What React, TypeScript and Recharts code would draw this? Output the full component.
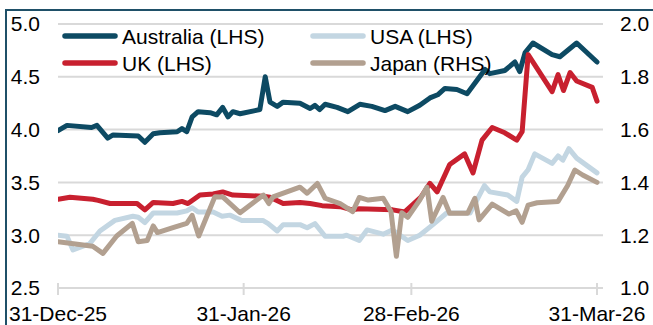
import { LineChart, Line, XAxis, YAxis, CartesianGrid } from 'recharts';

// x values are days after 31-Dec-25
const xTicks = [0, 31, 59, 90];
const xTickLabels = ['31-Dec-25', '31-Jan-26', '28-Feb-26', '31-Mar-26'];
const leftTicks = [2.5, 3.0, 3.5, 4.0, 4.5, 5.0];
const rightTicks = [1.0, 1.2, 1.4, 1.6, 1.8, 2.0];

const australiaDays = [0, 1.5, 5.6, 6.5, 8.3, 9.2, 13.4, 14.5, 15.9, 17.0, 19.9, 20.7, 21.5, 22.4, 23.4, 25.4, 26.5, 27.5, 28.4, 29.2, 30.4, 32.9, 33.7, 34.6, 35.4, 36.6, 37.6, 40.4, 42.1, 42.9, 43.7, 44.6, 46.6, 48.4, 50.4, 52.4, 54.6, 56.3, 58.4, 60.4, 62.1, 63.4, 64.6, 66.6, 68.3, 70.0, 71.3, 72.1, 74.6, 76.3, 77.1, 78.0, 79.3, 82.5, 83.8, 86.6, 90.0];
const australia = [3.99, 4.04, 4.02, 4.04, 3.92, 3.95, 3.94, 3.88, 3.96, 3.97, 3.98, 4.01, 3.98, 4.12, 4.17, 4.16, 4.14, 4.21, 4.12, 4.17, 4.15, 4.18, 4.19, 4.50, 4.26, 4.22, 4.26, 4.25, 4.20, 4.23, 4.19, 4.24, 4.21, 4.17, 4.24, 4.22, 4.18, 4.22, 4.17, 4.23, 4.30, 4.33, 4.39, 4.38, 4.34, 4.47, 4.57, 4.53, 4.56, 4.64, 4.55, 4.73, 4.82, 4.71, 4.69, 4.82, 4.64];

const usaDays = [0, 1.5, 2.5, 5.3, 7.0, 9.5, 12.5, 13.4, 14.5, 15.9, 19.9, 21.5, 22.4, 23.4, 25.9, 27.4, 28.7, 30.7, 34.2, 35.1, 36.6, 37.6, 40.4, 41.6, 42.9, 44.6, 47.6, 48.2, 50.3, 51.6, 54.3, 55.8, 58.4, 60.4, 62.6, 64.9, 68.8, 71.2, 72.1, 75.1, 76.6, 77.5, 78.5, 79.6, 82.5, 83.5, 84.3, 85.3, 86.6, 90.0];
const usa = [3.00, 2.99, 2.86, 2.92, 3.04, 3.14, 3.18, 3.17, 3.12, 3.21, 3.21, 3.23, 3.26, 3.22, 3.22, 3.18, 3.19, 3.14, 3.14, 3.11, 3.04, 3.10, 3.10, 3.07, 3.11, 2.99, 2.99, 3.00, 2.95, 3.05, 3.01, 3.05, 2.95, 3.00, 3.10, 3.21, 3.21, 3.47, 3.41, 3.38, 3.32, 3.55, 3.62, 3.77, 3.68, 3.75, 3.71, 3.82, 3.73, 3.59];

const ukDays = [0, 2.0, 5.8, 6.7, 8.7, 13.2, 14.5, 15.9, 19.2, 20.7, 21.7, 23.7, 25.9, 27.5, 29.2, 34.2, 35.4, 37.6, 40.4, 42.1, 44.1, 47.1, 49.1, 50.3, 55.9, 57.9, 60.6, 62.1, 63.3, 65.4, 67.9, 69.3, 70.8, 72.5, 74.6, 76.6, 77.5, 78.5, 82.5, 83.5, 84.4, 85.5, 86.6, 89.2, 90.0];
const uk = [3.34, 3.36, 3.34, 3.33, 3.30, 3.30, 3.24, 3.31, 3.30, 3.32, 3.30, 3.38, 3.39, 3.41, 3.38, 3.37, 3.36, 3.30, 3.31, 3.30, 3.28, 3.27, 3.24, 3.25, 3.24, 3.22, 3.36, 3.49, 3.41, 3.67, 3.77, 3.59, 3.90, 4.02, 3.97, 3.90, 3.98, 4.71, 4.36, 4.52, 4.37, 4.54, 4.46, 4.40, 4.27];

const japanDays = [0, 5.8, 7.5, 9.8, 12.4, 13.4, 14.9, 15.9, 16.6, 19.2, 21.5, 22.4, 23.5, 26.2, 27.5, 30.4, 34.3, 35.2, 35.9, 40.4, 41.6, 43.3, 44.6, 47.1, 49.2, 50.3, 51.8, 54.3, 55.6, 56.5, 57.4, 58.4, 60.4, 61.6, 62.4, 64.3, 65.4, 68.4, 69.6, 70.3, 72.5, 75.3, 76.5, 77.5, 78.5, 80.0, 83.5, 85.1, 86.3, 87.6, 90.0];
const japan = [1.175, 1.158, 1.131, 1.197, 1.245, 1.175, 1.18, 1.235, 1.21, 1.229, 1.245, 1.275, 1.197, 1.346, 1.345, 1.285, 1.352, 1.32, 1.345, 1.382, 1.359, 1.396, 1.34, 1.32, 1.289, 1.343, 1.333, 1.34, 1.29, 1.12, 1.285, 1.268, 1.333, 1.382, 1.253, 1.343, 1.283, 1.283, 1.34, 1.258, 1.318, 1.28, 1.292, 1.249, 1.314, 1.323, 1.328, 1.388, 1.447, 1.428, 1.40];

const toData = (days: number[], vals: number[]) => days.map((d, i) => ({ day: d, value: vals[i] }));

const FONT = '"Liberation Sans", Arial, sans-serif';
const GRID = '#d9d9d9';

const series = [
  { name: 'Australia (LHS)', color: '#0d4a63', data: toData(australiaDays, australia), axis: 'left' },
  { name: 'USA (LHS)', color: '#c3d6e2', data: toData(usaDays, usa), axis: 'left' },
  { name: 'UK (LHS)', color: '#c8202f', data: toData(ukDays, uk), axis: 'left' },
  { name: 'Japan (RHS)', color: '#b2a090', data: toData(japanDays, japan), axis: 'right' },
];

// legend drawn on top of the plot, two columns x two rows
function ChartLegend() {
  const cols = [62, 310];
  const rows = [36, 63];
  return (
    <svg width={653} height={80} style={{ position: 'absolute', left: 0, top: 0, pointerEvents: 'none' }}>
      {series.map((s, i) => {
        const x = cols[i % 2];
        const y = rows[Math.floor(i / 2)];
        return (
          <g key={s.name}>
            <line x1={x + 3} x2={x + 53} y1={y} y2={y} stroke={s.color} strokeWidth={5.5} strokeLinecap="round" />
            <text x={x + 60} y={y + 7.5} fontSize={21} fontFamily={FONT} fill="#000">
              {s.name}
            </text>
          </g>
        );
      })}
    </svg>
  );
}

const XTick = (props: any) => {
  const { x, y, payload } = props;
  const idx = xTicks.indexOf(payload.value);
  return (
    <g>
      <line x1={x} x2={x} y1={y - 5} y2={y + 7} stroke={GRID} strokeWidth={2} />
      <text x={x} y={y + 33} textAnchor="middle" fontSize={21} fontFamily={FONT} fill="#000">
        {xTickLabels[idx]}
      </text>
    </g>
  );
};

export default function App() {
  return (
    <div style={{ position: 'absolute', left: 0, top: 0, width: 653, height: 325, overflow: 'hidden', background: '#fff' }}>
      <div
        style={{
          position: 'absolute',
          left: 5,
          top: 9,
          width: 700,
          height: 400,
          borderTop: '2px solid #1f5068',
          borderLeft: '2px solid #1f5068',
        }}
      />
      <div style={{ position: 'absolute', left: 0, top: 0 }}>
        <LineChart width={653} height={325} margin={{ top: 24, right: 0, bottom: 0, left: 0 }}>
          <CartesianGrid yAxisId="left" vertical={false} stroke={GRID} strokeWidth={2} />
          <XAxis
            dataKey="day"
            type="number"
            domain={[0, 91]}
            ticks={xTicks}
            height={37}
            axisLine={{ stroke: GRID, strokeWidth: 2 }}
            tickLine={false}
            tickSize={0}
            tickMargin={0}
            tick={<XTick />}
            interval={0}
            allowDataOverflow
          />
          <YAxis
            yAxisId="left"
            orientation="left"
            width={58}
            domain={[2.5, 5]}
            ticks={leftTicks}
            tickFormatter={(v: number) => v.toFixed(1)}
            axisLine={false}
            tickLine={false}
            tickSize={0}
            tickMargin={18}
            tick={{ fontSize: 21, fill: '#000', fontFamily: FONT }}
            interval={0}
          />
          <YAxis
            yAxisId="right"
            orientation="right"
            width={50}
            domain={[1, 2]}
            ticks={rightTicks}
            tickFormatter={(v: number) => v.toFixed(1)}
            axisLine={false}
            tickLine={false}
            tickSize={0}
            tickMargin={17}
            tick={{ fontSize: 21, fill: '#000', fontFamily: FONT }}
            interval={0}
          />
          {series.map((s) => (
            <Line
              key={s.name}
              yAxisId={s.axis}
              data={s.data}
              dataKey="value"
              name={s.name}
              type="linear"
              stroke={s.color}
              strokeWidth={5}
              strokeLinejoin="round"
              strokeLinecap="round"
              dot={false}
              activeDot={false}
              isAnimationActive={false}
            />
          ))}
        </LineChart>
      </div>
      <ChartLegend />
    </div>
  );
}
